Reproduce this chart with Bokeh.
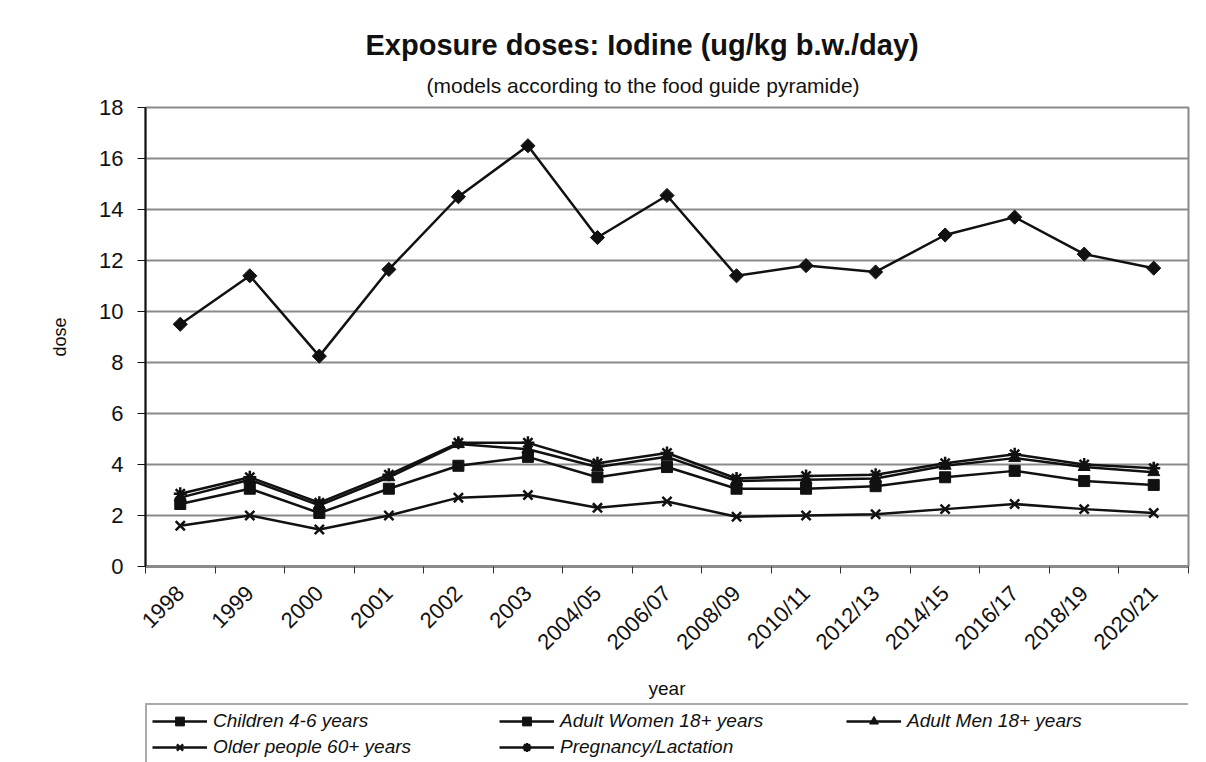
import numpy as np
from bokeh.plotting import figure
from bokeh.layouts import column
from bokeh.models import (ColumnDataSource, Legend, LegendItem, FixedTicker, Title, Range1d)
from bokeh.embed import file_html
from bokeh.resources import INLINE

categories = ["1998", "1999", "2000", "2001", "2002", "2003", "2004/05", "2006/07",
              "2008/09", "2010/11", "2012/13", "2014/15", "2016/17", "2018/19", "2020/21"]
children = [9.5, 11.4, 8.25, 11.65, 14.5, 16.5, 12.9, 14.55, 11.4, 11.8, 11.55, 13.0, 13.7, 12.25, 11.7]
women = [2.45, 3.05, 2.1, 3.05, 3.95, 4.3, 3.5, 3.9, 3.05, 3.05, 3.15, 3.5, 3.75, 3.35, 3.2]
men = [2.7, 3.4, 2.4, 3.5, 4.8, 4.6, 3.9, 4.3, 3.35, 3.4, 3.45, 3.95, 4.25, 3.9, 3.7]
older = [1.6, 2.0, 1.45, 2.0, 2.7, 2.8, 2.3, 2.55, 1.95, 2.0, 2.05, 2.25, 2.45, 2.25, 2.1]
pregnancy = [2.85, 3.5, 2.5, 3.6, 4.85, 4.85, 4.05, 4.45, 3.45, 3.55, 3.6, 4.05, 4.4, 4.0, 3.85]
y_ticks = [0, 2, 4, 6, 8, 10, 12, 14, 16, 18]

FONT = "Liberation Sans"
n = len(categories)
xpos = np.arange(n) + 0.5

p = figure(frame_width=1043, frame_height=459, output_backend="svg", toolbar_location=None,
           x_range=Range1d(0, n), y_range=Range1d(0, 18),
           min_border_left=145, min_border_right=18, min_border_top=107, min_border_bottom=137)
p.title = None
p.add_layout(Title(text="(models according to the food guide pyramide)", align="left",
                   text_font=FONT, text_font_size="21px", text_font_style="normal",
                   text_line_height=0.5, offset=281,
                   text_color="#111111", standoff=22), "above")
p.add_layout(Title(text="Exposure doses: Iodine (ug/kg b.w./day)", align="left",
                   text_font=FONT, text_font_size="29px", text_font_style="bold",
                   text_line_height=1.1, offset=220,
                   text_color="#111111", standoff=0), "above")

p.background_fill_color = "white"
p.border_fill_color = "white"
p.outline_line_color = "#8a8a8a"
p.outline_line_width = 2

# grid
p.xgrid.visible = False
p.ygrid.ticker = FixedTicker(ticks=y_ticks)
p.ygrid.grid_line_color = "#8a8a8a"
p.ygrid.grid_line_width = 2

# y axis
p.yaxis.ticker = FixedTicker(ticks=y_ticks)
p.yaxis.axis_label = "dose"
p.yaxis.axis_label_text_font = FONT
p.yaxis.axis_label_text_font_size = "18px"
p.yaxis.axis_label_text_font_style = "normal"
p.yaxis.axis_label_text_color = "#111111"
p.yaxis.axis_label_standoff = 26
p.yaxis.major_label_text_font = FONT
p.yaxis.major_label_text_font_size = "22px"
p.yaxis.major_label_text_color = "#111111"
p.yaxis.major_label_standoff = 14
p.yaxis.axis_line_color = "#111111"
p.yaxis.axis_line_width = 2
p.yaxis.major_tick_out = 8
p.yaxis.major_tick_in = 0
p.yaxis.major_tick_line_color = "#111111"
p.yaxis.minor_tick_line_color = None

# x axis: labels at category centres, ticks at category boundaries
p.xaxis.ticker = FixedTicker(ticks=list(xpos), minor_ticks=list(range(n + 1)))
p.xaxis.major_label_overrides = {float(x): c for x, c in zip(xpos, categories)}
p.xaxis.major_label_orientation = np.pi / 4
p.xaxis.major_label_text_font = FONT
p.xaxis.major_label_text_font_size = "22px"
p.xaxis.major_label_text_color = "#111111"
p.xaxis.major_label_standoff = 16
p.xaxis.major_tick_out = 0
p.xaxis.major_tick_in = 0
p.xaxis.minor_tick_out = 7
p.xaxis.minor_tick_in = 0
p.xaxis.minor_tick_line_color = "#333333"
p.xaxis.minor_tick_line_width = 1
p.xaxis.axis_line_color = "#8a8a8a"
p.xaxis.axis_line_width = 3
p.xaxis.axis_label = "year"
p.xaxis.axis_label_text_font = FONT
p.xaxis.axis_label_text_font_size = "19px"
p.xaxis.axis_label_text_font_style = "normal"
p.xaxis.axis_label_text_color = "#111111"
p.xaxis.axis_label_standoff = 12

src = ColumnDataSource(dict(x=xpos, children=children, women=women, men=men,
                            older=older, pregnancy=pregnancy))
LC = "#111111"
LW = 2.5
specs = [
    ("children", "Children 4-6 years", "square", 10, np.pi / 4),
    ("women", "Adult Women 18+ years", "square", 11, 0.0),
    ("men", "Adult Men 18+ years", "triangle", 12, 0.0),
    ("older", "Older people 60+ years", "x", 13, 0.0),
    ("pregnancy", "Pregnancy/Lactation", "asterisk", 13, 0.0),
]

# legend strip under the chart (its glyphs share the data, kept out of view)
p2 = figure(width=1206, height=59, output_backend="svg", toolbar_location=None,
            x_range=Range1d(-100, -99), y_range=Range1d(-100, -99),
            min_border_left=132, min_border_right=0, min_border_top=0, min_border_bottom=0)
p2.title = None
p2.axis.visible = False
p2.grid.visible = False
p2.outline_line_color = None
p2.background_fill_color = "white"
p2.border_fill_color = "white"

items = []
for col, label, marker, size, ang in specs:
    lw_m = 2.5 if marker in ("x", "asterisk") else 1
    p.line("x", col, source=src, line_color=LC, line_width=LW)
    p.scatter("x", col, source=src, marker=marker, size=size, angle=ang,
              fill_color=LC, line_color=LC, line_width=lw_m)
    ln2 = p2.line("x", col, source=src, line_color=LC, line_width=LW)
    sc2 = p2.scatter("x", col, source=src, marker=marker, size=size, angle=ang,
                     fill_color=LC, line_color=LC, line_width=lw_m)
    items.append(LegendItem(label=label, renderers=[ln2, sc2]))

legend = Legend(items=items, orientation="horizontal", ncols=3,
                label_text_font=FONT, label_text_font_size="19px",
                label_text_font_style="italic", label_text_color="#111111",
                glyph_width=55, glyph_height=22, label_width=282, label_standoff=6,
                spacing=4, padding=5, margin=0,
                border_line_color="#555555", border_line_width=2,
                background_fill_color="white", location="top_left")
p2.add_layout(legend, "center")

open("out.html", "w").write(file_html(column(p, p2, spacing=0), INLINE))
